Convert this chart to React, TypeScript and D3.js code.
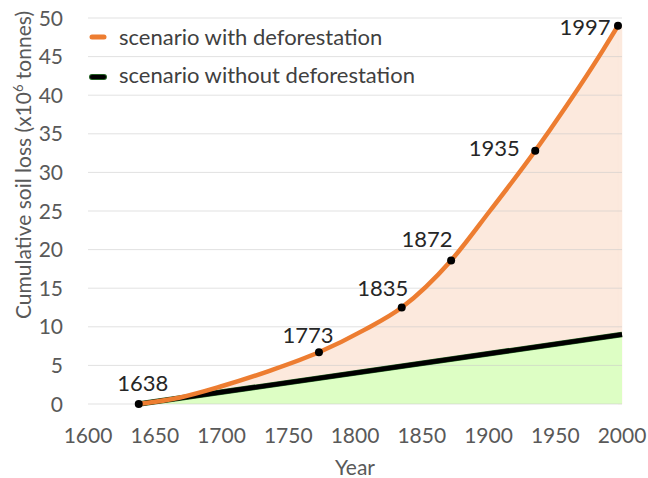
import * as d3 from "d3";
import React from "react";

// values
const withYears = [1638, 1773, 1835, 1872, 1935, 1997];
const withLoss = [0, 6.7, 12.5, 18.6, 32.8, 49.0];
// extra unlabelled readings along the orange curve
const withCurveYears = [1638, 1669, 1700, 1736, 1773, 1807, 1835, 1872, 1901, 1935, 1946, 1986, 1997];
const withCurveLoss = [0, 0.85, 2.3, 4.3, 6.7, 9.6, 12.5, 18.6, 25.0, 32.8, 35.5, 45.9, 49.0];
const withoutYears = [1638, 2000];
const withoutLoss = [0, 9.0];
const yTicks = [0, 5, 10, 15, 20, 25, 30, 35, 40, 45, 50];
const xTicks = [1600, 1650, 1700, 1750, 1800, 1850, 1900, 1950, 2000];
const seriesNames = ["scenario with deforestation", "scenario without deforestation"];

// label offsets relative to each marker (dx of text centre, dy of baseline)
const labelDx = [4, -11, -19, -24, -41, -33];
const labelDy = [-13, -9, -12, -13, 5, 9];

const W = 648, H = 478;
const FONT = "Lato, 'Open Sans', sans-serif";

const App = () => {
    const x = d3.scaleLinear().domain([1600, 2000]).range([88, 622]);
    const y = d3.scaleLinear().domain([0, 50]).range([404, 18]);

    const withPts: [number, number][] = withYears.map((d, i) => [d, withLoss[i]]);
    const curvePts: [number, number][] = withCurveYears.map((d, i) => [d, withCurveLoss[i]]);
    const withoutPts: [number, number][] = withoutYears.map((d, i) => [d, withoutLoss[i]]);
    const last = withPts[withPts.length - 1];
    // shaded area keeps the last value up to the end of the axis
    const tailPts: [number, number][] = [last, [2000, last[1]]];

    const line = d3.line<[number, number]>()
        .x(d => x(d[0]))
        .y(d => y(d[1]))
        .curve(d3.curveMonotoneX);
    const area = d3.area<[number, number]>()
        .x(d => x(d[0]))
        .y0(y(0))
        .y1(d => y(d[1]))
        .curve(d3.curveMonotoneX);
    const straight = d3.line<[number, number]>().x(d => x(d[0])).y(d => y(d[1]));
    const flatArea = d3.area<[number, number]>().x(d => x(d[0])).y0(y(0)).y1(d => y(d[1]));

    return (
        <svg width={W} height={H} style={{ position: "absolute", left: 0, top: 0, background: "#fff" }}
             fontFamily={FONT}>
            <path d={area(curvePts) || ""} fill="#FCE9DD" />
            <path d={flatArea(tailPts) || ""} fill="#FCE9DD" stroke="#FCE9DD" strokeWidth={0.5} />
            <path d={flatArea(withoutPts) || ""} fill="#DDFEC4" />

            {yTicks.map(t => (
                <g key={t}>
                    <line x1={88} x2={622} y1={y(t)} y2={y(t)} stroke="#C8C8C8" strokeOpacity={0.55} strokeWidth={1} />
                    <text x={63} y={y(t)} dy="0.36em" textAnchor="end" fontSize={21} fill="#595959">{t}</text>
                </g>
            ))}
            {xTicks.map(t => (
                <text key={t} x={x(t)} y={443} textAnchor="middle" fontSize={21} fill="#595959">{t}</text>
            ))}
            <text x={355} y={475} textAnchor="middle" fontSize={21} fill="#595959">Year</text>
            <text transform="translate(31,165) rotate(-90)" textAnchor="middle" fontSize={21} fill="#595959">
                Cumulative soil loss (x10<tspan baselineShift="super" fontSize={13}>6</tspan> tonnes)
            </text>

            <path d={straight(withoutPts) || ""} fill="none" stroke="#245F24" strokeWidth={5.5} />
            <path d={straight(withoutPts) || ""} fill="none" stroke="#000" strokeWidth={4.5} />
            <path d={line(curvePts) || ""} fill="none" stroke="#ED7D31" strokeWidth={4.5} strokeLinecap="round" />

            {withPts.map((d, i) => (
                <g key={d[0]}>
                    <circle cx={x(d[0])} cy={y(d[1])} r={4} fill="#000" />
                    <text x={x(d[0]) + labelDx[i]} y={y(d[1]) + labelDy[i]} textAnchor="middle"
                          fontSize={22} fill="#262626">{d[0]}</text>
                </g>
            ))}

            {/* legend */}
            <line x1={92} x2={104} y1={37} y2={37} stroke="#ED7D31" strokeWidth={5} strokeLinecap="round" />
            <text x={119} y={45} fontSize={22} fill="#404040">{seriesNames[0]}</text>
            <line x1={92} x2={104} y1={77} y2={77} stroke="#245F24" strokeWidth={6} strokeLinecap="round" />
            <line x1={92} x2={104} y1={77} y2={77} stroke="#000" strokeWidth={4} strokeLinecap="round" />
            <text x={119} y={83} fontSize={22} fill="#404040">{seriesNames[1]}</text>
        </svg>
    );
};

export default App;
